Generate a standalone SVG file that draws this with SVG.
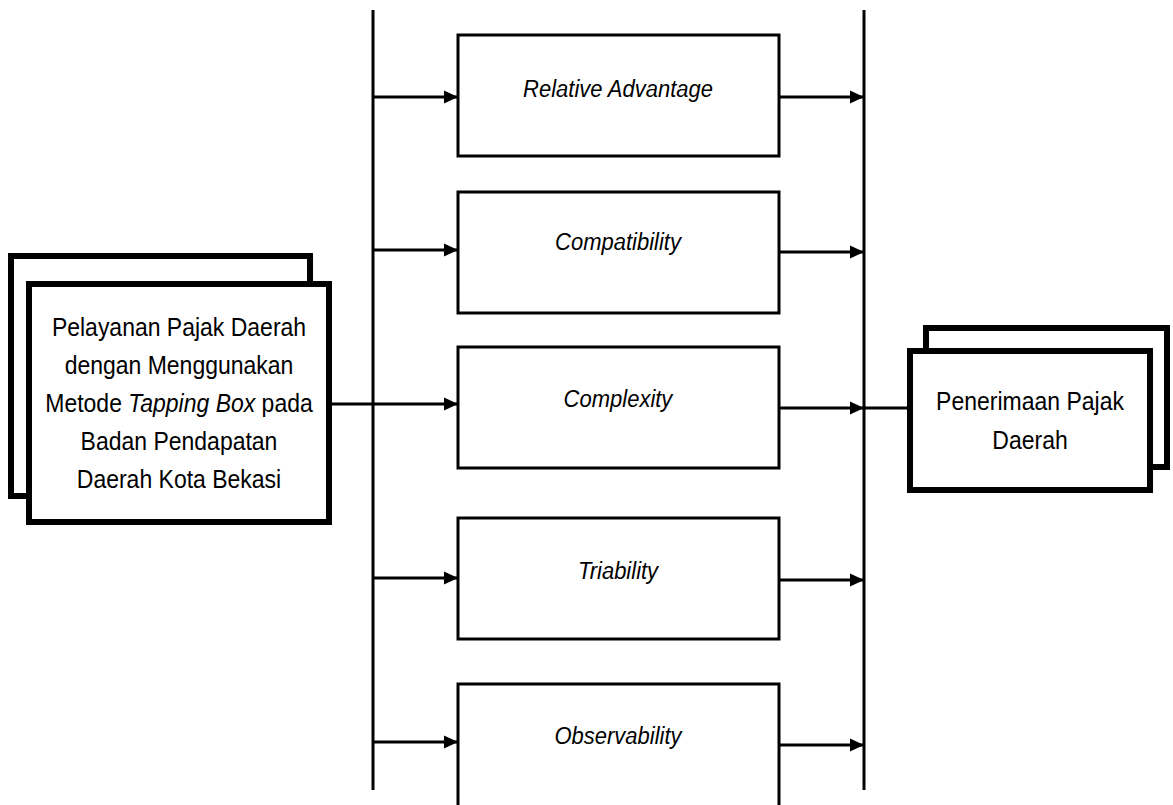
<svg xmlns="http://www.w3.org/2000/svg" width="1173" height="805" viewBox="0 0 1173 805">
<style>
.bg{fill:#fff}
.box{fill:#fff;stroke:#000;stroke-width:3}
.thick{fill:#fff;stroke:#000;stroke-width:6}
.ln{stroke:#000;stroke-width:3;fill:none}
.lbl{font-family:"Liberation Sans",Arial,sans-serif;font-size:22px;font-style:italic;text-anchor:middle;fill:#000}
.txt{font-family:"Liberation Sans",Arial,sans-serif;font-size:23px;text-anchor:middle;fill:#000}
</style>
<defs>
<marker id="arr" markerUnits="userSpaceOnUse" markerWidth="15" markerHeight="15" refX="14" refY="7.5" orient="auto">
<path d="M0,1 L14,7.5 L0,14 Z" fill="#000"/>
</marker>
</defs>
<rect class="bg" x="0" y="0" width="1173" height="805"/>
<g id="connectors">
<line class="ln" x1="373" y1="10" x2="373" y2="790"/>
<line class="ln" x1="864" y1="10" x2="864" y2="790"/>
<line class="ln" x1="373" y1="97" x2="458" y2="97" marker-end="url(#arr)"/>
<line class="ln" x1="779" y1="97" x2="864" y2="97" marker-end="url(#arr)"/>
<line class="ln" x1="373" y1="250" x2="458" y2="250" marker-end="url(#arr)"/>
<line class="ln" x1="779" y1="252" x2="864" y2="252" marker-end="url(#arr)"/>
<line class="ln" x1="332" y1="404" x2="458" y2="404" marker-end="url(#arr)"/>
<line class="ln" x1="779" y1="408" x2="864" y2="408" marker-end="url(#arr)"/>
<line class="ln" x1="864" y1="408" x2="907" y2="408"/>
<line class="ln" x1="373" y1="578" x2="458" y2="578" marker-end="url(#arr)"/>
<line class="ln" x1="779" y1="580" x2="864" y2="580" marker-end="url(#arr)"/>
<line class="ln" x1="373" y1="742" x2="458" y2="742" marker-end="url(#arr)"/>
<line class="ln" x1="779" y1="745" x2="864" y2="745" marker-end="url(#arr)"/>
</g>
<g id="relative-advantage">
<rect class="box" x="458" y="35" width="321" height="121"/>
<text class="lbl" transform="translate(618,97) scale(1,1.12)">Relative Advantage</text>
</g>
<g id="compatibility">
<rect class="box" x="458" y="192" width="321" height="121"/>
<text class="lbl" transform="translate(618,250) scale(1,1.12)">Compatibility</text>
</g>
<g id="complexity">
<rect class="box" x="458" y="347" width="321" height="121"/>
<text class="lbl" transform="translate(618,407) scale(1,1.12)">Complexity</text>
</g>
<g id="triability">
<rect class="box" x="458" y="518" width="321" height="121"/>
<text class="lbl" transform="translate(618,579) scale(1,1.12)">Triability</text>
</g>
<g id="observability">
<rect class="box" x="458" y="684" width="321" height="130"/>
<text class="lbl" transform="translate(618,744) scale(1,1.12)">Observability</text>
</g>
<g id="pelayanan">
<rect class="thick" x="11" y="256" width="299" height="240"/>
<rect class="thick" x="29" y="284" width="300" height="238"/>
<text class="txt" transform="translate(179,336) scale(1,1.1)">Pelayanan Pajak Daerah</text>
<text class="txt" transform="translate(179,374) scale(1,1.1)">dengan Menggunakan</text>
<text class="txt" transform="translate(179,412) scale(1,1.1)">Metode <tspan font-style="italic">Tapping Box</tspan> pada</text>
<text class="txt" transform="translate(179,450) scale(1,1.1)">Badan Pendapatan</text>
<text class="txt" transform="translate(179,488) scale(1,1.1)">Daerah Kota Bekasi</text>
</g>
<g id="penerimaan">
<rect class="thick" x="926" y="328" width="241" height="139"/>
<rect class="thick" x="910" y="351" width="240" height="139"/>
<text class="txt" transform="translate(1030,410) scale(1,1.1)">Penerimaan Pajak</text>
<text class="txt" transform="translate(1030,449) scale(1,1.1)">Daerah</text>
</g>
</svg>
